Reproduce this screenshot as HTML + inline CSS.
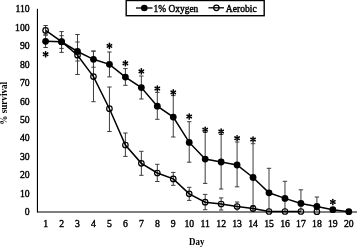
<!DOCTYPE html>
<html><head><meta charset="utf-8"><style>
html,body{margin:0;padding:0;background:#fff;}
svg{display:block;will-change:transform;}
.t{font-family:"Liberation Serif", serif;font-weight:normal;font-size:9.7px;fill:#000;stroke:#000;stroke-width:0.4px;}
.b{font-family:"Liberation Serif", serif;font-weight:bold;font-size:9.4px;fill:#000;}
.n{font-family:"Liberation Serif", serif;font-weight:normal;font-size:9.7px;fill:#000;stroke:#000;stroke-width:0.4px;}
.s{font-family:"Liberation Serif", serif;font-weight:bold;font-size:14px;fill:#000;}
</style></head><body>
<svg width="357" height="247" viewBox="0 0 357 247">
<line x1="37.45" y1="8.8" x2="37.45" y2="212.35" stroke="#000" stroke-width="1.15"/>
<line x1="37" y1="212" x2="357" y2="212" stroke="#000" stroke-width="1.9" stroke-opacity="0.5"/>
<text transform="translate(29.60,215.15) scale(1,1)" text-anchor="end" class="n">0</text>
<text transform="translate(29.60,196.71) scale(1,1)" text-anchor="end" class="n">10</text>
<text transform="translate(29.60,178.27) scale(1,1)" text-anchor="end" class="n">20</text>
<text transform="translate(29.60,159.83) scale(1,1)" text-anchor="end" class="n">30</text>
<text transform="translate(29.60,141.39) scale(1,1)" text-anchor="end" class="n">40</text>
<text transform="translate(29.60,122.95) scale(1,1)" text-anchor="end" class="n">50</text>
<text transform="translate(29.60,104.50) scale(1,1)" text-anchor="end" class="n">60</text>
<text transform="translate(29.60,86.06) scale(1,1)" text-anchor="end" class="n">70</text>
<text transform="translate(29.60,67.62) scale(1,1)" text-anchor="end" class="n">80</text>
<text transform="translate(29.60,49.18) scale(1,1)" text-anchor="end" class="n">90</text>
<text transform="translate(29.60,30.74) scale(1,1)" text-anchor="end" class="n">100</text>
<text transform="translate(29.60,12.30) scale(1,1)" text-anchor="end" class="n">110</text>
<text transform="translate(45.60,226.60) scale(1,1)" text-anchor="middle" class="n">1</text>
<text transform="translate(61.56,226.60) scale(1,1)" text-anchor="middle" class="n">2</text>
<text transform="translate(77.52,226.60) scale(1,1)" text-anchor="middle" class="n">3</text>
<text transform="translate(93.47,226.60) scale(1,1)" text-anchor="middle" class="n">4</text>
<text transform="translate(109.43,226.60) scale(1,1)" text-anchor="middle" class="n">5</text>
<text transform="translate(125.39,226.60) scale(1,1)" text-anchor="middle" class="n">6</text>
<text transform="translate(141.35,226.60) scale(1,1)" text-anchor="middle" class="n">7</text>
<text transform="translate(157.31,226.60) scale(1,1)" text-anchor="middle" class="n">8</text>
<text transform="translate(173.26,226.60) scale(1,1)" text-anchor="middle" class="n">9</text>
<text transform="translate(189.22,226.60) scale(1,1)" text-anchor="middle" class="n">10</text>
<text transform="translate(205.18,226.60) scale(1,1)" text-anchor="middle" class="n">11</text>
<text transform="translate(221.14,226.60) scale(1,1)" text-anchor="middle" class="n">12</text>
<text transform="translate(237.09,226.60) scale(1,1)" text-anchor="middle" class="n">13</text>
<text transform="translate(253.05,226.60) scale(1,1)" text-anchor="middle" class="n">14</text>
<text transform="translate(269.01,226.60) scale(1,1)" text-anchor="middle" class="n">15</text>
<text transform="translate(284.97,226.60) scale(1,1)" text-anchor="middle" class="n">16</text>
<text transform="translate(300.93,226.60) scale(1,1)" text-anchor="middle" class="n">17</text>
<text transform="translate(316.88,226.60) scale(1,1)" text-anchor="middle" class="n">18</text>
<text transform="translate(332.84,226.60) scale(1,1)" text-anchor="middle" class="n">19</text>
<text transform="translate(348.80,226.60) scale(1,1)" text-anchor="middle" class="n">20</text>
<text transform="translate(196.80,245.20) scale(0.95,1)" text-anchor="middle" class="b">Day</text>
<text transform="translate(7.0,103.3) rotate(-90) scale(0.97,1)" text-anchor="middle" class="b">% survival</text>
<line x1="45.60" y1="25.5" x2="45.60" y2="35" stroke="#3c3c3c" stroke-width="1"/><line x1="43.40" y1="25.5" x2="47.80" y2="25.5" stroke="#3c3c3c" stroke-width="1"/><line x1="43.40" y1="35" x2="47.80" y2="35" stroke="#3c3c3c" stroke-width="1"/>
<line x1="61.56" y1="31.6" x2="61.56" y2="52.4" stroke="#3c3c3c" stroke-width="1"/><line x1="59.36" y1="31.6" x2="63.76" y2="31.6" stroke="#3c3c3c" stroke-width="1"/><line x1="59.36" y1="52.4" x2="63.76" y2="52.4" stroke="#3c3c3c" stroke-width="1"/>
<line x1="77.52" y1="34.5" x2="77.52" y2="74.5" stroke="#3c3c3c" stroke-width="1"/><line x1="75.31" y1="34.5" x2="79.72" y2="34.5" stroke="#3c3c3c" stroke-width="1"/><line x1="75.31" y1="74.5" x2="79.72" y2="74.5" stroke="#3c3c3c" stroke-width="1"/>
<line x1="93.47" y1="51.1" x2="93.47" y2="101.7" stroke="#3c3c3c" stroke-width="1"/><line x1="91.27" y1="51.1" x2="95.67" y2="51.1" stroke="#3c3c3c" stroke-width="1"/><line x1="91.27" y1="101.7" x2="95.67" y2="101.7" stroke="#3c3c3c" stroke-width="1"/>
<line x1="109.43" y1="87" x2="109.43" y2="131.5" stroke="#3c3c3c" stroke-width="1"/><line x1="107.23" y1="87" x2="111.63" y2="87" stroke="#3c3c3c" stroke-width="1"/><line x1="107.23" y1="131.5" x2="111.63" y2="131.5" stroke="#3c3c3c" stroke-width="1"/>
<line x1="125.39" y1="133" x2="125.39" y2="156.4" stroke="#3c3c3c" stroke-width="1"/><line x1="123.19" y1="133" x2="127.59" y2="133" stroke="#3c3c3c" stroke-width="1"/><line x1="123.19" y1="156.4" x2="127.59" y2="156.4" stroke="#3c3c3c" stroke-width="1"/>
<line x1="141.35" y1="151.3" x2="141.35" y2="175.3" stroke="#3c3c3c" stroke-width="1"/><line x1="139.15" y1="151.3" x2="143.55" y2="151.3" stroke="#3c3c3c" stroke-width="1"/><line x1="139.15" y1="175.3" x2="143.55" y2="175.3" stroke="#3c3c3c" stroke-width="1"/>
<line x1="157.31" y1="164.3" x2="157.31" y2="181.5" stroke="#3c3c3c" stroke-width="1"/><line x1="155.11" y1="164.3" x2="159.50" y2="164.3" stroke="#3c3c3c" stroke-width="1"/><line x1="155.11" y1="181.5" x2="159.50" y2="181.5" stroke="#3c3c3c" stroke-width="1"/>
<line x1="173.26" y1="172.4" x2="173.26" y2="185.3" stroke="#3c3c3c" stroke-width="1"/><line x1="171.06" y1="172.4" x2="175.46" y2="172.4" stroke="#3c3c3c" stroke-width="1"/><line x1="171.06" y1="185.3" x2="175.46" y2="185.3" stroke="#3c3c3c" stroke-width="1"/>
<line x1="189.22" y1="187.3" x2="189.22" y2="200.4" stroke="#3c3c3c" stroke-width="1"/><line x1="187.02" y1="187.3" x2="191.42" y2="187.3" stroke="#3c3c3c" stroke-width="1"/><line x1="187.02" y1="200.4" x2="191.42" y2="200.4" stroke="#3c3c3c" stroke-width="1"/>
<line x1="205.18" y1="194.4" x2="205.18" y2="209.7" stroke="#3c3c3c" stroke-width="1"/><line x1="202.98" y1="194.4" x2="207.38" y2="194.4" stroke="#3c3c3c" stroke-width="1"/><line x1="202.98" y1="209.7" x2="207.38" y2="209.7" stroke="#3c3c3c" stroke-width="1"/>
<line x1="221.14" y1="197.9" x2="221.14" y2="210" stroke="#3c3c3c" stroke-width="1"/><line x1="218.94" y1="197.9" x2="223.34" y2="197.9" stroke="#3c3c3c" stroke-width="1"/><line x1="218.94" y1="210" x2="223.34" y2="210" stroke="#3c3c3c" stroke-width="1"/>
<line x1="237.09" y1="202.0" x2="237.09" y2="211" stroke="#3c3c3c" stroke-width="1"/><line x1="234.90" y1="202.0" x2="239.29" y2="202.0" stroke="#3c3c3c" stroke-width="1"/>
<line x1="253.05" y1="205.6" x2="253.05" y2="211.5" stroke="#3c3c3c" stroke-width="1"/><line x1="250.85" y1="205.6" x2="255.25" y2="205.6" stroke="#3c3c3c" stroke-width="1"/>
<line x1="45.60" y1="35" x2="45.60" y2="47.5" stroke="#3c3c3c" stroke-width="1"/><line x1="43.40" y1="35" x2="47.80" y2="35" stroke="#3c3c3c" stroke-width="1"/><line x1="43.40" y1="47.5" x2="47.80" y2="47.5" stroke="#3c3c3c" stroke-width="1"/>
<line x1="61.56" y1="35.7" x2="61.56" y2="48.4" stroke="#3c3c3c" stroke-width="1"/><line x1="59.36" y1="35.7" x2="63.76" y2="35.7" stroke="#3c3c3c" stroke-width="1"/><line x1="59.36" y1="48.4" x2="63.76" y2="48.4" stroke="#3c3c3c" stroke-width="1"/>
<line x1="77.52" y1="42" x2="77.52" y2="61" stroke="#3c3c3c" stroke-width="1"/><line x1="75.31" y1="42" x2="79.72" y2="42" stroke="#3c3c3c" stroke-width="1"/><line x1="75.31" y1="61" x2="79.72" y2="61" stroke="#3c3c3c" stroke-width="1"/>
<line x1="93.47" y1="51.1" x2="93.47" y2="67.2" stroke="#3c3c3c" stroke-width="1"/><line x1="91.27" y1="51.1" x2="95.67" y2="51.1" stroke="#3c3c3c" stroke-width="1"/><line x1="91.27" y1="67.2" x2="95.67" y2="67.2" stroke="#3c3c3c" stroke-width="1"/>
<line x1="109.43" y1="52" x2="109.43" y2="76.9" stroke="#3c3c3c" stroke-width="1"/><line x1="107.23" y1="52" x2="111.63" y2="52" stroke="#3c3c3c" stroke-width="1"/><line x1="107.23" y1="76.9" x2="111.63" y2="76.9" stroke="#3c3c3c" stroke-width="1"/>
<line x1="125.39" y1="68.6" x2="125.39" y2="85.3" stroke="#3c3c3c" stroke-width="1"/><line x1="123.19" y1="68.6" x2="127.59" y2="68.6" stroke="#3c3c3c" stroke-width="1"/><line x1="123.19" y1="85.3" x2="127.59" y2="85.3" stroke="#3c3c3c" stroke-width="1"/>
<line x1="141.35" y1="76" x2="141.35" y2="99" stroke="#3c3c3c" stroke-width="1"/><line x1="139.15" y1="76" x2="143.55" y2="76" stroke="#3c3c3c" stroke-width="1"/><line x1="139.15" y1="99" x2="143.55" y2="99" stroke="#3c3c3c" stroke-width="1"/>
<line x1="157.31" y1="92.4" x2="157.31" y2="119.3" stroke="#3c3c3c" stroke-width="1"/><line x1="155.11" y1="92.4" x2="159.50" y2="92.4" stroke="#3c3c3c" stroke-width="1"/><line x1="155.11" y1="119.3" x2="159.50" y2="119.3" stroke="#3c3c3c" stroke-width="1"/>
<line x1="173.26" y1="95.6" x2="173.26" y2="137" stroke="#3c3c3c" stroke-width="1"/><line x1="171.06" y1="95.6" x2="175.46" y2="95.6" stroke="#3c3c3c" stroke-width="1"/><line x1="171.06" y1="137" x2="175.46" y2="137" stroke="#3c3c3c" stroke-width="1"/>
<line x1="189.22" y1="121.7" x2="189.22" y2="162.2" stroke="#3c3c3c" stroke-width="1"/><line x1="187.02" y1="121.7" x2="191.42" y2="121.7" stroke="#3c3c3c" stroke-width="1"/><line x1="187.02" y1="162.2" x2="191.42" y2="162.2" stroke="#3c3c3c" stroke-width="1"/>
<line x1="205.18" y1="132.4" x2="205.18" y2="183.4" stroke="#3c3c3c" stroke-width="1"/><line x1="202.98" y1="132.4" x2="207.38" y2="132.4" stroke="#3c3c3c" stroke-width="1"/><line x1="202.98" y1="183.4" x2="207.38" y2="183.4" stroke="#3c3c3c" stroke-width="1"/>
<line x1="221.14" y1="134.5" x2="221.14" y2="189" stroke="#3c3c3c" stroke-width="1"/><line x1="218.94" y1="134.5" x2="223.34" y2="134.5" stroke="#3c3c3c" stroke-width="1"/><line x1="218.94" y1="189" x2="223.34" y2="189" stroke="#3c3c3c" stroke-width="1"/>
<line x1="237.09" y1="142" x2="237.09" y2="186.8" stroke="#3c3c3c" stroke-width="1"/><line x1="234.90" y1="142" x2="239.29" y2="142" stroke="#3c3c3c" stroke-width="1"/><line x1="234.90" y1="186.8" x2="239.29" y2="186.8" stroke="#3c3c3c" stroke-width="1"/>
<line x1="253.05" y1="143.7" x2="253.05" y2="211.5" stroke="#3c3c3c" stroke-width="1"/><line x1="250.85" y1="143.7" x2="255.25" y2="143.7" stroke="#3c3c3c" stroke-width="1"/>
<line x1="269.01" y1="168.3" x2="269.01" y2="211.5" stroke="#3c3c3c" stroke-width="1"/><line x1="266.81" y1="168.3" x2="271.21" y2="168.3" stroke="#3c3c3c" stroke-width="1"/>
<line x1="284.97" y1="181.3" x2="284.97" y2="211.5" stroke="#3c3c3c" stroke-width="1"/><line x1="282.77" y1="181.3" x2="287.17" y2="181.3" stroke="#3c3c3c" stroke-width="1"/>
<line x1="300.93" y1="189.8" x2="300.93" y2="211.5" stroke="#3c3c3c" stroke-width="1"/><line x1="298.73" y1="189.8" x2="303.13" y2="189.8" stroke="#3c3c3c" stroke-width="1"/>
<line x1="316.88" y1="197" x2="316.88" y2="211.5" stroke="#3c3c3c" stroke-width="1"/><line x1="314.69" y1="197" x2="319.08" y2="197" stroke="#3c3c3c" stroke-width="1"/>
<polyline points="45.60,30.4 61.56,41.7 77.52,55.2 93.47,76.6 109.43,108.7 125.39,145.0 141.35,163.3 157.31,173.0 173.26,178.9 189.22,193.8 205.18,202.2 221.14,204.0 237.09,206.5 253.05,208.6 269.01,211.5 284.97,211.5 300.93,211.5" fill="none" stroke="#000" stroke-width="1.5"/>
<polyline points="45.60,41.3 61.56,41.8 77.52,51.5 93.47,59.3 109.43,64.3 125.39,77.1 141.35,87.6 157.31,106.2 173.26,117.1 189.22,142.4 205.18,159.1 221.14,162.0 237.09,165.0 253.05,177.5 269.01,192.8 284.97,198.4 300.93,203.4 316.88,206.4 332.84,209.7 348.80,211.7" fill="none" stroke="#000" stroke-width="1.5"/>
<circle cx="45.60" cy="30.4" r="2.75" fill="none" stroke="#000" stroke-width="1.2"/>
<circle cx="61.56" cy="41.7" r="2.75" fill="none" stroke="#000" stroke-width="1.2"/>
<circle cx="77.52" cy="55.2" r="2.75" fill="none" stroke="#000" stroke-width="1.2"/>
<circle cx="93.47" cy="76.6" r="2.75" fill="none" stroke="#000" stroke-width="1.2"/>
<circle cx="109.43" cy="108.7" r="2.75" fill="none" stroke="#000" stroke-width="1.2"/>
<circle cx="125.39" cy="145.0" r="2.75" fill="none" stroke="#000" stroke-width="1.2"/>
<circle cx="141.35" cy="163.3" r="2.75" fill="none" stroke="#000" stroke-width="1.2"/>
<circle cx="157.31" cy="173.0" r="2.75" fill="none" stroke="#000" stroke-width="1.2"/>
<circle cx="173.26" cy="178.9" r="2.75" fill="none" stroke="#000" stroke-width="1.2"/>
<circle cx="189.22" cy="193.8" r="2.75" fill="none" stroke="#000" stroke-width="1.2"/>
<circle cx="205.18" cy="202.2" r="2.75" fill="none" stroke="#000" stroke-width="1.2"/>
<circle cx="221.14" cy="204.0" r="2.75" fill="none" stroke="#000" stroke-width="1.2"/>
<circle cx="237.09" cy="206.5" r="2.75" fill="none" stroke="#000" stroke-width="1.2"/>
<circle cx="253.05" cy="208.6" r="2.75" fill="none" stroke="#000" stroke-width="1.2"/>
<circle cx="269.01" cy="211.5" r="2.75" fill="none" stroke="#000" stroke-width="1.2"/>
<circle cx="284.97" cy="211.5" r="2.75" fill="none" stroke="#000" stroke-width="1.2"/>
<circle cx="300.93" cy="211.5" r="2.75" fill="none" stroke="#000" stroke-width="1.2"/>
<circle cx="316.88" cy="211.7" r="2.75" fill="none" stroke="#000" stroke-width="1.2"/>
<circle cx="45.60" cy="41.3" r="3.4" fill="#000"/>
<circle cx="61.56" cy="41.8" r="3.4" fill="#000"/>
<circle cx="77.52" cy="51.5" r="3.4" fill="#000"/>
<circle cx="93.47" cy="59.3" r="3.4" fill="#000"/>
<circle cx="109.43" cy="64.3" r="3.4" fill="#000"/>
<circle cx="125.39" cy="77.1" r="3.4" fill="#000"/>
<circle cx="141.35" cy="87.6" r="3.4" fill="#000"/>
<circle cx="157.31" cy="106.2" r="3.4" fill="#000"/>
<circle cx="173.26" cy="117.1" r="3.4" fill="#000"/>
<circle cx="189.22" cy="142.4" r="3.4" fill="#000"/>
<circle cx="205.18" cy="159.1" r="3.4" fill="#000"/>
<circle cx="221.14" cy="162.0" r="3.4" fill="#000"/>
<circle cx="237.09" cy="165.0" r="3.4" fill="#000"/>
<circle cx="253.05" cy="177.5" r="3.4" fill="#000"/>
<circle cx="269.01" cy="192.8" r="3.4" fill="#000"/>
<circle cx="284.97" cy="198.4" r="3.4" fill="#000"/>
<circle cx="300.93" cy="203.4" r="3.4" fill="#000"/>
<circle cx="316.88" cy="206.4" r="3.4" fill="#000"/>
<circle cx="332.84" cy="209.7" r="3.4" fill="#000"/>
<circle cx="348.80" cy="211.7" r="3.4" fill="#000"/>
<path d="M45.95,54.20L46.45,51.75A0.85,0.85 0 0 0 44.75,51.75L45.25,54.20ZM45.77,54.50L48.15,53.71A0.85,0.85 0 0 0 47.30,52.24L45.42,53.90ZM45.42,54.50L47.30,56.16A0.85,0.85 0 0 0 48.15,54.69L45.77,53.90ZM45.25,54.20L44.75,56.65A0.85,0.85 0 0 0 46.45,56.65L45.95,54.20ZM45.77,53.90L43.90,52.24A0.85,0.85 0 0 0 43.05,53.71L45.42,54.50ZM45.42,53.90L43.05,54.69A0.85,0.85 0 0 0 43.90,56.16L45.77,54.50Z" fill="#000"/>
<path d="M109.78,45.90L110.28,43.45A0.85,0.85 0 0 0 108.58,43.45L109.08,45.90ZM109.61,46.20L111.98,45.41A0.85,0.85 0 0 0 111.13,43.94L109.26,45.60ZM109.26,46.20L111.13,47.86A0.85,0.85 0 0 0 111.98,46.39L109.61,45.60ZM109.08,45.90L108.58,48.35A0.85,0.85 0 0 0 110.28,48.35L109.78,45.90ZM109.61,45.60L107.73,43.94A0.85,0.85 0 0 0 106.88,45.41L109.26,46.20ZM109.26,45.60L106.88,46.39A0.85,0.85 0 0 0 107.73,47.86L109.61,46.20Z" fill="#000"/>
<path d="M125.74,63.30L126.24,60.85A0.85,0.85 0 0 0 124.54,60.85L125.04,63.30ZM125.56,63.60L127.94,62.81A0.85,0.85 0 0 0 127.09,61.34L125.21,63.00ZM125.21,63.60L127.09,65.26A0.85,0.85 0 0 0 127.94,63.79L125.56,63.00ZM125.04,63.30L124.54,65.75A0.85,0.85 0 0 0 126.24,65.75L125.74,63.30ZM125.56,63.00L123.69,61.34A0.85,0.85 0 0 0 122.84,62.81L125.21,63.60ZM125.21,63.00L122.84,63.79A0.85,0.85 0 0 0 123.69,65.26L125.56,63.60Z" fill="#000"/>
<path d="M141.70,71.40L142.20,68.95A0.85,0.85 0 0 0 140.50,68.95L141.00,71.40ZM141.52,71.70L143.89,70.91A0.85,0.85 0 0 0 143.04,69.44L141.17,71.10ZM141.17,71.70L143.04,73.36A0.85,0.85 0 0 0 143.89,71.89L141.52,71.10ZM141.00,71.40L140.50,73.85A0.85,0.85 0 0 0 142.20,73.85L141.70,71.40ZM141.52,71.10L139.65,69.44A0.85,0.85 0 0 0 138.80,70.91L141.17,71.70ZM141.17,71.10L138.80,71.89A0.85,0.85 0 0 0 139.65,73.36L141.52,71.70Z" fill="#000"/>
<path d="M157.66,88.50L158.16,86.05A0.85,0.85 0 0 0 156.46,86.05L156.96,88.50ZM157.48,88.80L159.85,88.01A0.85,0.85 0 0 0 159.00,86.54L157.13,88.20ZM157.13,88.80L159.00,90.46A0.85,0.85 0 0 0 159.85,88.99L157.48,88.20ZM156.96,88.50L156.46,90.95A0.85,0.85 0 0 0 158.16,90.95L157.66,88.50ZM157.48,88.20L155.61,86.54A0.85,0.85 0 0 0 154.76,88.01L157.13,88.80ZM157.13,88.20L154.76,88.99A0.85,0.85 0 0 0 155.61,90.46L157.48,88.80Z" fill="#000"/>
<path d="M173.61,92.40L174.11,89.95A0.85,0.85 0 0 0 172.41,89.95L172.91,92.40ZM173.44,92.70L175.81,91.91A0.85,0.85 0 0 0 174.96,90.44L173.09,92.10ZM173.09,92.70L174.96,94.36A0.85,0.85 0 0 0 175.81,92.89L173.44,92.10ZM172.91,92.40L172.41,94.85A0.85,0.85 0 0 0 174.11,94.85L173.61,92.40ZM173.44,92.10L171.57,90.44A0.85,0.85 0 0 0 170.72,91.91L173.09,92.70ZM173.09,92.10L170.72,92.89A0.85,0.85 0 0 0 171.57,94.36L173.44,92.70Z" fill="#000"/>
<path d="M189.57,116.50L190.07,114.05A0.85,0.85 0 0 0 188.37,114.05L188.87,116.50ZM189.40,116.80L191.77,116.01A0.85,0.85 0 0 0 190.92,114.54L189.05,116.20ZM189.05,116.80L190.92,118.46A0.85,0.85 0 0 0 191.77,116.99L189.40,116.20ZM188.87,116.50L188.37,118.95A0.85,0.85 0 0 0 190.07,118.95L189.57,116.50ZM189.40,116.20L187.52,114.54A0.85,0.85 0 0 0 186.67,116.01L189.05,116.80ZM189.05,116.20L186.67,116.99A0.85,0.85 0 0 0 187.52,118.46L189.40,116.80Z" fill="#000"/>
<path d="M205.53,129.70L206.03,127.25A0.85,0.85 0 0 0 204.33,127.25L204.83,129.70ZM205.35,130.00L207.73,129.21A0.85,0.85 0 0 0 206.88,127.74L205.00,129.40ZM205.00,130.00L206.88,131.66A0.85,0.85 0 0 0 207.73,130.19L205.35,129.40ZM204.83,129.70L204.33,132.15A0.85,0.85 0 0 0 206.03,132.15L205.53,129.70ZM205.35,129.40L203.48,127.74A0.85,0.85 0 0 0 202.63,129.21L205.00,130.00ZM205.00,129.40L202.63,130.19A0.85,0.85 0 0 0 203.48,131.66L205.35,130.00Z" fill="#000"/>
<path d="M221.49,131.50L221.99,129.05A0.85,0.85 0 0 0 220.29,129.05L220.79,131.50ZM221.31,131.80L223.68,131.01A0.85,0.85 0 0 0 222.83,129.54L220.96,131.20ZM220.96,131.80L222.83,133.46A0.85,0.85 0 0 0 223.68,131.99L221.31,131.20ZM220.79,131.50L220.29,133.95A0.85,0.85 0 0 0 221.99,133.95L221.49,131.50ZM221.31,131.20L219.44,129.54A0.85,0.85 0 0 0 218.59,131.01L220.96,131.80ZM220.96,131.20L218.59,131.99A0.85,0.85 0 0 0 219.44,133.46L221.31,131.80Z" fill="#000"/>
<path d="M237.44,138.20L237.94,135.75A0.85,0.85 0 0 0 236.25,135.75L236.75,138.20ZM237.27,138.50L239.64,137.71A0.85,0.85 0 0 0 238.79,136.24L236.92,137.90ZM236.92,138.50L238.79,140.16A0.85,0.85 0 0 0 239.64,138.69L237.27,137.90ZM236.75,138.20L236.25,140.65A0.85,0.85 0 0 0 237.94,140.65L237.44,138.20ZM237.27,137.90L235.40,136.24A0.85,0.85 0 0 0 234.55,137.71L236.92,138.50ZM236.92,137.90L234.55,138.69A0.85,0.85 0 0 0 235.40,140.16L237.27,138.50Z" fill="#000"/>
<path d="M253.40,139.50L253.90,137.05A0.85,0.85 0 0 0 252.20,137.05L252.70,139.50ZM253.23,139.80L255.60,139.01A0.85,0.85 0 0 0 254.75,137.54L252.88,139.20ZM252.88,139.80L254.75,141.46A0.85,0.85 0 0 0 255.60,139.99L253.23,139.20ZM252.70,139.50L252.20,141.95A0.85,0.85 0 0 0 253.90,141.95L253.40,139.50ZM253.23,139.20L251.36,137.54A0.85,0.85 0 0 0 250.51,139.01L252.88,139.80ZM252.88,139.20L250.51,139.99A0.85,0.85 0 0 0 251.36,141.46L253.23,139.80Z" fill="#000"/>
<path d="M333.19,202.00L333.69,199.55A0.85,0.85 0 0 0 331.99,199.55L332.49,202.00ZM333.02,202.30L335.39,201.51A0.85,0.85 0 0 0 334.54,200.04L332.67,201.70ZM332.67,202.30L334.54,203.96A0.85,0.85 0 0 0 335.39,202.49L333.02,201.70ZM332.49,202.00L331.99,204.45A0.85,0.85 0 0 0 333.69,204.45L333.19,202.00ZM333.02,201.70L331.15,200.04A0.85,0.85 0 0 0 330.30,201.51L332.67,202.30ZM332.67,201.70L330.30,202.49A0.85,0.85 0 0 0 331.15,203.96L333.02,202.30Z" fill="#000"/>
<rect x="126.2" y="0.5" width="138" height="15.2" fill="#fff" stroke="#000" stroke-width="1.4"/>
<line x1="136" y1="8" x2="152.5" y2="8" stroke="#000" stroke-width="1.3"/>
<circle cx="144.3" cy="8" r="3.3" fill="#000"/>
<text transform="translate(153.50,11.50) scale(0.975,1)" class="t">1% Oxygen</text>
<line x1="208.4" y1="7.8" x2="224" y2="7.8" stroke="#000" stroke-width="1.3"/>
<circle cx="216.4" cy="7.8" r="2.75" fill="none" stroke="#000" stroke-width="1.2"/>
<text transform="translate(225.80,11.50) scale(0.99,1)" class="t">Aerobic</text>
</svg>
</body></html>
